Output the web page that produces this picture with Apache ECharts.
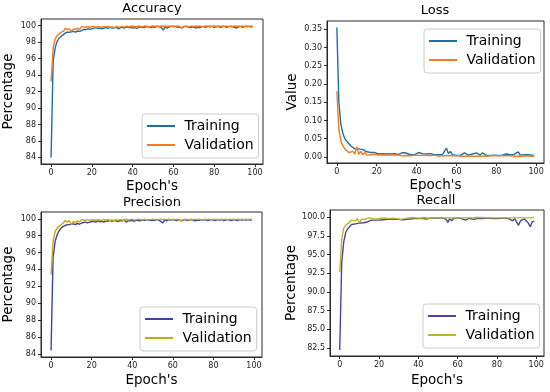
<!DOCTYPE html>
<html>
<head>
<meta charset="utf-8">
<script src="https://cdn.jsdelivr.net/npm/echarts@6/dist/echarts.min.js"></script>
<style>
html,body{margin:0;padding:0;background:#fff;}
#c{width:550px;height:392px;}
</style>
</head>
<body>
<div id="c"></div>
<script>
// ---- data ----
const epochs = Array.from({length: 100}, (_, i) => i);
const xTicks = [0, 20, 40, 60, 80, 100];
const pctTicks = [84, 86, 88, 90, 92, 94, 96, 98, 100];
const lossTicks = [0.00, 0.05, 0.10, 0.15, 0.20, 0.25, 0.30, 0.35];
const recallTicks = [82.5, 85.0, 87.5, 90.0, 92.5, 95.0, 97.5, 100.0];

const accTrain = [84.0,95.6,97.3,98.1,98.5,98.7,98.9,99.1,99.2,99.2,
99.25,99.3,99.2,99.35,99.3,99.4,99.55,99.5,99.6,99.55,
99.6,99.7,99.75,99.65,99.7,99.6,99.7,99.75,99.65,99.8,
99.7,99.75,99.8,99.6,99.75,99.8,99.7,99.85,99.75,99.8,
99.7,99.75,99.65,99.8,99.85,99.75,99.8,99.9,99.8,99.75,
99.85,99.8,99.9,99.85,99.8,99.45,99.8,99.7,99.85,99.9,
99.85,99.9,99.8,99.85,99.7,99.85,99.9,99.85,99.75,99.8,
99.85,99.7,99.8,99.75,99.9,99.85,99.8,99.9,99.85,99.9,
99.8,99.85,99.9,99.8,99.85,99.9,99.8,99.85,99.9,99.85,
99.8,99.7,99.85,99.9,99.8,99.9,99.85,99.9,99.85,99.85];
const accVal = [93.2,97.2,98.4,98.8,99.0,99.2,99.3,99.7,99.5,99.6,
99.3,99.6,99.5,99.7,99.5,99.9,99.85,99.8,99.9,99.75,
99.9,99.85,99.8,99.9,99.85,99.8,99.9,99.85,99.9,99.8,
99.85,99.7,99.9,99.8,99.85,99.9,99.8,99.95,99.85,99.9,
99.95,99.85,99.9,99.95,99.9,99.85,99.95,99.9,99.8,99.9,
99.95,99.9,99.95,99.9,99.95,99.9,99.95,99.9,99.95,99.9,
99.95,99.9,99.95,99.9,99.7,99.9,99.95,99.9,99.85,99.95,
99.9,99.95,99.9,99.95,99.85,99.9,99.95,99.9,99.95,99.9,
99.95,99.9,99.95,99.9,99.95,99.9,99.95,99.9,99.95,99.9,
99.95,99.9,99.95,99.9,99.95,99.9,99.95,99.9,99.95,99.9];

const lossTrain = [0.355,0.15,0.09,0.065,0.05,0.043,0.04,0.03,0.025,0.022,
0.02,0.022,0.018,0.02,0.015,0.014,0.01,0.012,0.009,0.012,
0.01,0.008,0.011,0.009,0.01,0.008,0.011,0.008,0.01,0.009,
0.011,0.007,0.009,0.012,0.008,0.01,0.007,0.006,0.008,0.006,
0.009,0.012,0.013,0.009,0.007,0.008,0.006,0.009,0.007,0.006,
0.008,0.006,0.005,0.007,0.006,0.024,0.009,0.015,0.006,0.005,
0.004,0.005,0.004,0.006,0.011,0.006,0.005,0.004,0.008,0.01,
0.011,0.006,0.005,0.011,0.006,0.004,0.005,0.004,0.006,0.005,
0.006,0.004,0.007,0.005,0.006,0.008,0.005,0.006,0.004,0.007,
0.006,0.014,0.005,0.004,0.006,0.005,0.006,0.004,0.005,0.004];
const lossVal = [0.18,0.075,0.045,0.03,0.022,0.017,0.012,0.011,0.015,0.008,
0.028,0.007,0.015,0.006,0.012,0.005,0.004,0.006,0.004,0.007,
0.004,0.005,0.003,0.006,0.004,0.005,0.003,0.005,0.004,0.006,
0.003,0.005,0.004,0.003,0.005,0.004,0.006,0.003,0.004,0.005,
0.003,0.004,0.003,0.005,0.006,0.004,0.007,0.004,0.008,0.005,
0.003,0.002,0.004,0.003,0.002,0.003,0.002,0.004,0.002,0.003,
0.002,0.003,0.002,0.002,0.005,0.002,0.003,0.002,0.003,0.002,
0.004,0.002,0.003,0.002,0.003,0.002,0.004,0.003,0.005,0.003,
0.002,0.003,0.002,0.003,0.002,0.003,0.002,0.003,0.002,0.002,
0.003,0.002,0.003,0.002,0.002,0.003,0.002,0.002,0.003,0.002];

const precTrain = [84.4,95.4,97.3,98.1,98.6,98.9,99.1,99.2,99.3,99.3,
99.35,99.4,99.3,99.45,99.35,99.5,99.55,99.6,99.5,99.6,
99.65,99.7,99.6,99.75,99.65,99.7,99.6,99.75,99.7,99.8,
99.7,99.8,99.75,99.65,99.8,99.75,99.85,99.6,99.8,99.75,
99.8,99.7,99.85,99.8,99.75,99.85,99.8,99.9,99.85,99.8,
99.85,99.8,99.9,99.85,99.7,99.5,99.85,99.75,99.9,99.85,
99.9,99.85,99.8,99.9,99.75,99.85,99.9,99.8,99.85,99.9,
99.85,99.75,99.85,99.8,99.9,99.85,99.9,99.8,99.85,99.9,
99.85,99.8,99.9,99.85,99.9,99.8,99.85,99.9,99.85,99.8,
99.9,99.85,99.8,99.9,99.85,99.9,99.85,99.9,99.85,99.85];
const precVal = [93.4,97.3,98.5,98.9,99.1,99.3,99.5,99.8,99.6,99.8,
99.3,99.7,99.5,99.75,99.6,99.9,99.85,99.8,99.9,99.8,
99.9,99.85,99.8,99.9,99.85,99.8,99.9,99.85,99.9,99.8,
99.85,99.75,99.9,99.8,99.9,99.85,99.8,99.95,99.85,99.9,
99.95,99.85,99.9,99.95,99.9,99.85,99.95,99.9,99.85,99.9,
99.95,99.9,99.95,99.9,99.95,99.9,99.95,99.9,99.95,99.9,
99.95,99.9,99.95,99.85,99.75,99.9,99.95,99.9,99.85,99.95,
99.9,99.95,99.9,99.95,99.85,99.9,99.95,99.9,99.95,99.9,
99.95,99.9,99.95,99.9,99.95,99.9,99.95,99.9,99.95,99.9,
99.95,99.9,99.95,99.9,99.95,99.9,99.95,99.9,99.95,99.9];

const recTrain = [82.2,93.8,96.6,97.9,98.4,98.6,99.0,99.1,99.1,99.15,
99.2,99.3,99.25,99.4,99.35,99.5,99.6,99.5,99.6,99.65,
99.6,99.7,99.65,99.6,99.7,99.65,99.75,99.6,99.7,99.75,
99.7,99.8,99.65,99.75,99.7,99.8,99.75,99.6,99.8,99.75,
99.8,99.7,99.85,99.8,99.75,99.8,99.85,99.8,99.9,99.8,
99.85,99.8,99.9,99.85,99.75,99.3,99.8,99.5,99.85,99.8,
99.9,99.85,99.8,99.85,99.6,99.8,99.85,99.8,99.7,99.85,
99.8,99.65,99.8,99.75,99.85,99.8,99.85,99.75,99.8,99.85,
99.8,99.75,99.85,99.8,99.85,99.75,99.8,99.85,99.5,99.8,
99.75,98.9,99.5,99.4,99.75,99.6,99.2,98.7,99.4,99.45];
const recVal = [92.6,97.0,98.5,98.9,99.1,99.3,99.6,99.8,99.5,99.8,
99.2,99.7,99.5,99.75,99.6,99.9,99.85,99.8,99.9,99.75,
99.9,99.85,99.8,99.9,99.85,99.8,99.9,99.85,99.9,99.8,
99.85,99.7,99.9,99.8,99.85,99.9,99.8,99.95,99.85,99.9,
99.95,99.85,99.9,99.95,99.9,99.85,99.95,99.9,99.85,99.9,
99.95,99.9,99.95,99.9,99.95,99.9,99.95,99.9,99.95,99.9,
99.95,99.9,99.95,99.9,99.8,99.9,99.95,99.9,99.85,99.95,
99.9,99.95,99.9,99.95,99.85,99.9,99.95,99.9,99.95,99.9,
99.95,99.9,99.95,99.9,99.95,99.9,99.95,99.9,99.95,99.9,
99.95,99.9,99.95,99.9,99.95,99.9,99.95,99.9,99.95,99.95];

// ---- chart ----
const FONT = 'DejaVu Sans';
const AX = '#2a2a2a';
const panels = [
  {title:'Accuracy', yName:'Percentage', grid:{left:41,top:19,width:222,height:145}, ymin:83.2, ymax:100.8, yt:pctTicks, fmt:v=>String(v),
   tr:accTrain, va:accVal, ct:'#1b70a8', cv:'#f47b20', leg:{left:142,top:114}, tt:{x:152,y:2}, xg:15, yg:26},
  {title:'Loss', yName:'Value', grid:{left:327,top:21,width:217,height:142}, ymin:-0.0167, ymax:0.3727, yt:lossTicks, fmt:v=>v.toFixed(2),
   tr:lossTrain, va:lossVal, ct:'#1b70a8', cv:'#f47b20', leg:{left:424,top:29}, tt:{x:435,y:4}, xg:15, yg:28},
  {title:'Precision', yName:'Percentage', grid:{left:41,top:212,width:221,height:145}, ymin:83.62, ymax:100.8, yt:pctTicks, fmt:v=>String(v),
   tr:precTrain, va:precVal, ct:'#3c46a0', cv:'#c9a61c', leg:{left:140,top:307}, tt:{x:152,y:196}, xg:16, yg:26},
  {title:'Recall', yName:'Percentage', grid:{left:330,top:210,width:214,height:146}, ymin:81.4, ymax:100.95, yt:recallTicks, fmt:v=>v.toFixed(1),
   tr:recTrain, va:recVal, ct:'#4646a0', cv:'#bdb426', leg:{left:423,top:304}, tt:{x:436,y:194}, xg:17, yg:30}
];

const option = {
  animation:false,
  backgroundColor:'#fff',
  textStyle:{fontFamily:FONT},
  title:[], grid:[], xAxis:[], yAxis:[], series:[], legend:[]
};
panels.forEach((p,i)=>{
  option.title.push({text:p.title, left:p.tt.x, top:p.tt.y, textAlign:'center', padding:0,
    textStyle:{fontFamily:FONT, fontSize:13, fontWeight:'normal', color:'#000'}});
  option.grid.push(Object.assign({show:true, borderColor:AX, borderWidth:1, backgroundColor:'transparent'}, p.grid));
  option.xAxis.push({type:'value', gridIndex:i, min:-4.95, max:103.95,
    name:"Epoch's", nameLocation:'middle', nameGap:p.xg,
    nameTextStyle:{fontFamily:FONT, fontSize:13.5, color:'#000'},
    axisLine:{show:true, onZero:false, lineStyle:{color:AX, width:1}},
    axisTick:{show:true, length:3, inside:false, customValues:xTicks, lineStyle:{color:AX}},
    axisLabel:{customValues:xTicks, fontFamily:FONT, fontSize:8, color:'#222', margin:5},
    splitLine:{show:false}});
  option.yAxis.push({type:'value', gridIndex:i, min:p.ymin, max:p.ymax,
    name:p.yName, nameLocation:'middle', nameGap:p.yg,
    nameTextStyle:{fontFamily:FONT, fontSize:13.5, color:'#000'},
    axisLine:{show:true, onZero:false, lineStyle:{color:AX, width:1}},
    axisTick:{show:true, length:3, inside:false, customValues:p.yt, lineStyle:{color:AX}},
    axisLabel:{customValues:p.yt, formatter:p.fmt, fontFamily:FONT, fontSize:8, color:'#222', margin:5},
    splitLine:{show:false}});
  const nT = 'Training|'+i, nV = 'Validation|'+i;
  option.series.push({name:nT, type:'line', xAxisIndex:i, yAxisIndex:i, showSymbol:false, symbol:'none',
    data:epochs.map((e,k)=>[e,p.tr[k]]), color:p.ct, lineStyle:{width:1.4, color:p.ct}, z:2});
  option.series.push({name:nV, type:'line', xAxisIndex:i, yAxisIndex:i, showSymbol:false, symbol:'none',
    data:epochs.map((e,k)=>[e,p.va[k]]), color:p.cv, lineStyle:{width:1.4, color:p.cv}, z:3});
  option.legend.push({data:[nT,nV], orient:'vertical', left:p.leg.left, top:p.leg.top,
    icon:'rect', itemWidth:28, itemHeight:2, itemGap:5,
    padding:[5,5,6,5], borderColor:'#cccccc', borderWidth:1, borderRadius:3,
    backgroundColor:'rgba(255,255,255,0.8)', selectedMode:false,
    formatter:n=>' '+n.split('|')[0],
    textStyle:{fontFamily:FONT, fontSize:14, color:'#000'}});
});

const chart = echarts.init(document.getElementById('c'), null, {renderer:'canvas'});
chart.setOption(option);
</script>
</body>
</html>
